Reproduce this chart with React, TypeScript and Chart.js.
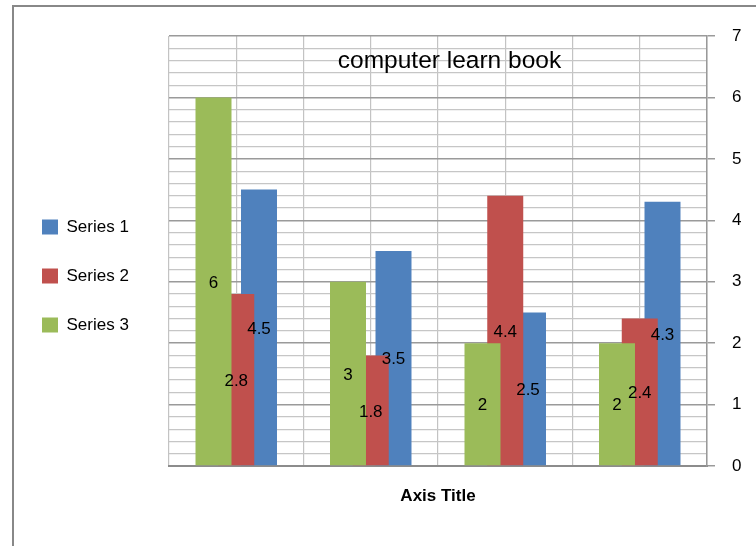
import React, { useEffect, useRef } from 'react';
import { Chart, registerables } from 'chart.js';

Chart.register(...registerables);

// ---- data ----
const categories = ['Category 1', 'Category 2', 'Category 3', 'Category 4'];
const series1 = [4.5, 3.5, 2.5, 4.3];
const series2 = [2.8, 1.8, 4.4, 2.4];
const series3 = [6, 3, 2, 2];
const seriesNames = ['Series 1', 'Series 2', 'Series 3'];
const yMin = 0;
const yMax = 7;
const yMinorStep = 0.2;
const gridColumns = ['1a', '1b', '2a', '2b', '3a', '3b', '4a', '4b'];
const chartTitle = 'computer learn book';
const xAxisTitle = 'Axis Title';

// ---- styles ----
const BLUE = '#4F81BD';
const RED = '#C0504D';
const GREEN = '#9BBB59';
const FONT = "'Liberation Sans', Arial, sans-serif";

const isMajor = (v: number) => Math.abs(v - Math.round(v)) < 1e-6;

const innerTitlePlugin = {
  id: 'innerTitle',
  beforeDatasetsDraw(chart: any) {
    const { ctx, chartArea } = chart;
    ctx.save();
    ctx.font = `24.5px ${FONT}`;
    ctx.fillStyle = '#000';
    ctx.textAlign = 'center';
    ctx.textBaseline = 'alphabetic';
    ctx.fillText(chartTitle, (chartArea.left + chartArea.right) / 2 + 11.5, chartArea.top + 32);
    ctx.restore();
  },
};

const dataLabelPlugin = {
  id: 'dataLabels',
  afterDatasetsDraw(chart: any) {
    const { ctx } = chart;
    ctx.save();
    ctx.font = `17px ${FONT}`;
    ctx.fillStyle = '#000';
    ctx.textAlign = 'center';
    ctx.textBaseline = 'middle';
    chart.data.datasets.forEach((ds: any, i: number) => {
      const meta = chart.getDatasetMeta(i);
      meta.data.forEach((el: any, j: number) => {
        const { x, y, base } = el.getProps(['x', 'y', 'base'], true);
        ctx.fillText(String(ds.data[j]), x, (y + base) / 2 + 1.5);
      });
    });
    ctx.restore();
  },
};

export default function App() {
  const canvasRef = useRef<HTMLCanvasElement | null>(null);

  useEffect(() => {
    if (!canvasRef.current) return;
    Chart.defaults.font.family = FONT;
    Chart.defaults.color = '#000';
    const chart = new Chart(canvasRef.current, {
      type: 'bar',
      data: {
        labels: categories,
        datasets: [
          { label: seriesNames[2], data: series3, backgroundColor: GREEN, xAxisID: 'x', yAxisID: 'y' },
          { label: seriesNames[1], data: series2, backgroundColor: RED, xAxisID: 'x', yAxisID: 'y' },
          { label: seriesNames[0], data: series1, backgroundColor: BLUE, xAxisID: 'x', yAxisID: 'y' },
        ],
      },
      options: {
        responsive: false,
        animation: false,
        categoryPercentage: 0.5074,
        barPercentage: 1.582,
        layout: { padding: { left: 10, top: 36, bottom: 30, right: 14 } },
        plugins: {
          title: { display: false },
          tooltip: { enabled: false },
          legend: {
            position: 'left',
            reverse: true,
            labels: {
              boxWidth: 16,
              boxHeight: 15,
              padding: 32,
              color: '#000',
              font: { size: 17, family: FONT },
            },
          },
        },
        scales: {
          x: {
            type: 'category',
            position: 'bottom',
            grid: { display: false, drawTicks: false },
            border: { display: true, color: '#8c8c8c', width: 2 },
            ticks: { display: false },
            title: {
              display: true,
              text: xAxisTitle,
              color: '#000',
              font: { size: 17, weight: 'bold', family: FONT },
              padding: { top: 19.8, bottom: 9.8 },
            },
          },
          xg: {
            type: 'category',
            position: 'bottom',
            labels: gridColumns,
            offset: true,
            grid: { display: true, offset: true, color: '#c3c3c3', lineWidth: 1.2, drawTicks: false },
            border: { display: false },
            ticks: { display: false },
          },
          yPad: {
            type: 'linear',
            position: 'left',
            display: true,
            grid: { display: false, drawTicks: false },
            border: { display: false },
            ticks: { display: false },
            afterFit: (s: any) => {
              s.width = 37;
            },
          },
          y: {
            type: 'linear',
            position: 'right',
            min: yMin,
            max: yMax,
            border: { display: true, color: '#999', width: 1.5 },
            grid: {
              color: (c: any) => (isMajor(c.tick.value) ? '#9a9a9a' : '#c6c6c6'),
              lineWidth: (c: any) => (isMajor(c.tick.value) ? 1.5 : 1.2),
              tickColor: (c: any) => (isMajor(c.tick.value) ? '#9a9a9a' : 'rgba(0,0,0,0)'),
              tickLength: 8,
            },
            ticks: {
              stepSize: yMinorStep,
              autoSkip: false,
              padding: 17,
              color: '#000',
              font: { size: 17, family: FONT },
              callback: (v: any) => (isMajor(Number(v)) ? String(Math.round(Number(v))) : ''),
            },
            afterFit: (s: any) => {
              s.width = 35;
            },
          },
        },
      },
      plugins: [innerTitlePlugin, dataLabelPlugin],
    });
    return () => chart.destroy();
  }, []);

  return (
    <div style={{ position: 'fixed', left: 0, top: 0, width: 756, height: 546, background: '#fff', overflow: 'hidden' }}>
      <canvas ref={canvasRef} width={756} height={546} style={{ width: 756, height: 546, display: 'block' }} />
      <div
        style={{
          position: 'absolute',
          left: 12,
          top: 5,
          width: 800,
          height: 600,
          borderLeft: '2px solid #888',
          borderTop: '2px solid #888',
          pointerEvents: 'none',
        }}
      />
    </div>
  );
}
